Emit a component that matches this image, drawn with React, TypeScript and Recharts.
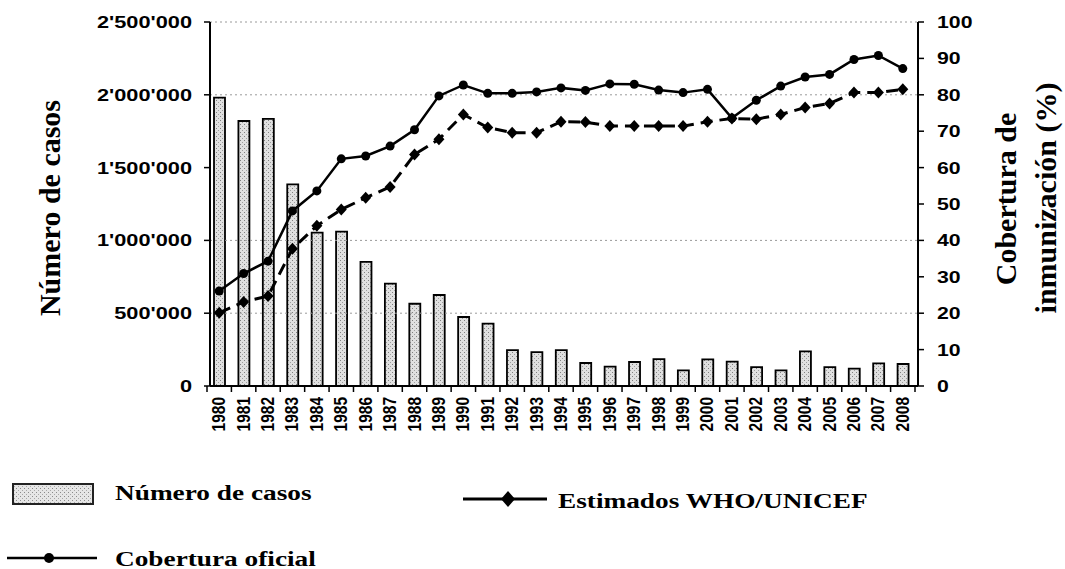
import { ComposedChart, Bar, Line, XAxis, YAxis, ReferenceLine } from 'recharts';

const years = [
  '1980', '1981', '1982', '1983', '1984', '1985', '1986', '1987', '1988', '1989',
  '1990', '1991', '1992', '1993', '1994', '1995', '1996', '1997', '1998', '1999',
  '2000', '2001', '2002', '2003', '2004', '2005', '2006', '2007', '2008',
];

// Número de casos
const casos = [
  1980000, 1820000, 1834000, 1385000, 1053000, 1060000, 852000, 703000, 565000, 625000,
  474000, 428000, 247000, 233000, 247000, 158000, 133000, 165000, 185000, 108000,
  183000, 167000, 130000, 108000, 238000, 130000, 119000, 156000, 151000,
];

// Cobertura oficial (%)
const oficial = [
  26.1, 30.9, 34.3, 48.1, 53.6, 62.4, 63.2, 65.9, 70.4, 79.7,
  82.7, 80.4, 80.4, 80.8, 81.9, 81.2, 83.0, 82.9, 81.3, 80.6,
  81.5, 73.6, 78.5, 82.4, 84.9, 85.6, 89.7, 90.8, 87.2,
];

// Estimados WHO/UNICEF (%)
const estimados = [
  20.1, 23.1, 24.7, 37.7, 44.0, 48.5, 51.7, 54.7, 63.6, 67.8,
  74.6, 71.0, 69.6, 69.6, 72.6, 72.5, 71.4, 71.4, 71.4, 71.4,
  72.6, 73.5, 73.3, 74.6, 76.5, 77.6, 80.6, 80.6, 81.5,
];

const casosTicks = [0, 500000, 1000000, 1500000, 2000000, 2500000];
const pctTicks = [0, 10, 20, 30, 40, 50, 60, 70, 80, 90, 100];
const gridValues = [500000, 1000000, 2000000, 2500000];

const data = years.map((year, i) => ({
  year,
  casos: casos[i],
  oficial: oficial[i],
  estimados: estimados[i],
}));

const W = 1065;
const H = 569;
const PLOT_LEFT = 210;
const PLOT_RIGHT = 918;
const band = (PLOT_RIGHT - PLOT_LEFT) / years.length;

const sans = '"Liberation Sans", Arial, sans-serif';
const serif = '"Liberation Serif", "Times New Roman", serif';

const fmt = (v: number) => String(v).replace(/\B(?=(\d{3})+(?!\d))/g, "'");

const LeftTick = ({ x, y, payload }: any) => (
  <g transform={`translate(${x},${y})`}>
    <text x={0} y={0} dy={6} textAnchor="end" transform="scale(1.28,1)" fontFamily={sans} fontWeight="bold" fontSize={17} fill="#000">
      {fmt(payload.value)}
    </text>
  </g>
);

const RightTick = ({ x, y, payload }: any) => (
  <g transform={`translate(${x},${y})`}>
    <text x={0} y={0} dy={6} textAnchor="start" transform="scale(1.25,1)" fontFamily={sans} fontWeight="bold" fontSize={17} fill="#000">
      {payload.value}
    </text>
  </g>
);

const YearTick = ({ x, y, payload, index }: any) => (
  <g>
    <line x1={x - band / 2} x2={x - band / 2} y1={y - 6} y2={y} stroke="#000" strokeWidth={1.5} />
    {index === years.length - 1 && (
      <line x1={x + band / 2} x2={x + band / 2} y1={y - 6} y2={y} stroke="#000" strokeWidth={1.5} />
    )}
    <text transform={`translate(${x + 6},${y + 5}) rotate(-90) scale(1,1.22)`} textAnchor="end" fontFamily={sans} fontWeight="bold" fontSize={15.5} fill="#000">
      {payload.value}
    </text>
  </g>
);

const CircleDot = (props: any) => {
  const { cx, cy, index } = props;
  if (cx == null || cy == null) return <g key={`c-${index}`} />;
  return <circle key={`c-${index}`} cx={cx} cy={cy} r={4.5} fill="#000" />;
};

const DiamondDot = (props: any) => {
  const { cx, cy, index } = props;
  if (cx == null || cy == null) return <g key={`d-${index}`} />;
  return (
    <path
      key={`d-${index}`}
      d={`M${cx},${cy - 6} L${cx + 5.5},${cy} L${cx},${cy + 6} L${cx - 5.5},${cy} Z`}
      fill="#000"
    />
  );
};

function Overlay() {
  return (
    <svg width={W} height={H} style={{ position: 'absolute', left: 0, top: 0, pointerEvents: 'none' }}>
      <defs>
        <pattern id="stipLegend" width="4" height="4" patternUnits="userSpaceOnUse">
          <rect width="4" height="4" fill="#e6e6e6" />
          <rect x="0" y="0" width="1" height="1" fill="#8a8a8a" />
          <rect x="2" y="2" width="1" height="1" fill="#a8a8a8" />
        </pattern>
      </defs>

      {/* axis titles */}
      <text transform="translate(60,208) rotate(-90)" textAnchor="middle" fontFamily={serif} fontWeight="bold" fontSize={30} fill="#000">
        Número de casos
      </text>
      <text transform="translate(1016,199) rotate(-90)" textAnchor="middle" fontFamily={serif} fontWeight="bold" fontSize={30} fill="#000">
        Cobertura de
      </text>
      <text transform="translate(1056,198) rotate(-90)" textAnchor="middle" fontFamily={serif} fontWeight="bold" fontSize={30} fill="#000">
        inmunización (%)
      </text>

      {/* legend */}
      <rect x={13} y={484} width={80} height={20} fill="url(#stipLegend)" stroke="#222" strokeWidth={2} />
      <text transform="translate(115,500) scale(1.3,1)" fontFamily={serif} fontWeight="bold" fontSize={21} fill="#000">
        Número de casos
      </text>

      <line x1={463} x2={547} y1={499} y2={499} stroke="#000" strokeWidth={3} />
      <path d="M508,491 L515,499 L508,507 L501,499 Z" fill="#000" />
      <text transform="translate(558,508) scale(1.3,1)" fontFamily={serif} fontWeight="bold" fontSize={21} fill="#000">
        Estimados WHO/UNICEF
      </text>

      <line x1={7} x2={97} y1={558} y2={558} stroke="#000" strokeWidth={2.5} />
      <circle cx={49} cy={558} r={5} fill="#000" />
      <text transform="translate(115,566) scale(1.3,1)" fontFamily={serif} fontWeight="bold" fontSize={21} fill="#000">
        Cobertura oficial
      </text>
    </svg>
  );
}

export default function App() {
  return (
    <div style={{ position: 'absolute', left: 0, top: 0, width: W, height: H, background: '#fff' }}>
      <ComposedChart
        width={W}
        height={H}
        data={data}
        margin={{ top: 22, right: 67, bottom: 123, left: 90 }}
        barSize={11}
      >
        <defs>
          <pattern id="stip" width="4" height="4" patternUnits="userSpaceOnUse">
            <rect width="4" height="4" fill="#e0e0e0" />
            <rect x="0" y="0" width="1" height="1" fill="#808080" />
            <rect x="2" y="2" width="1" height="1" fill="#9f9f9f" />
          </pattern>
        </defs>

        {gridValues.map((v) => (
          <ReferenceLine key={v} yAxisId="left" y={v} stroke="#9a9a9a" strokeDasharray="2 3" strokeWidth={1} />
        ))}

        <XAxis
          dataKey="year"
          interval={0}
          height={60}
          padding={{ left: -3, right: 3 }}
          axisLine={{ stroke: '#000', strokeWidth: 2 }}
          tickLine={false}
          tickSize={6}
          tickMargin={0}
          tick={<YearTick />}
        />
        <YAxis
          yAxisId="left"
          orientation="left"
          width={120}
          domain={[0, 2500000]}
          ticks={casosTicks}
          interval={0}
          axisLine={{ stroke: '#000', strokeWidth: 2 }}
          tickLine={{ stroke: '#000', strokeWidth: 1.5 }}
          tickSize={6}
          tickMargin={12}
          tick={<LeftTick />}
        />
        <YAxis
          yAxisId="right"
          orientation="right"
          width={80}
          domain={[0, 100]}
          ticks={pctTicks}
          interval={0}
          axisLine={{ stroke: '#000', strokeWidth: 2 }}
          tickLine={{ stroke: '#000', strokeWidth: 1.5 }}
          tickSize={6}
          tickMargin={13}
          tick={<RightTick />}
        />

        <Bar yAxisId="left" dataKey="casos" fill="url(#stip)" stroke="#000" strokeWidth={1.8} isAnimationActive={false} />
        <Line
          yAxisId="right"
          dataKey="estimados"
          type="linear"
          stroke="#000"
          strokeWidth={3}
          strokeDasharray="12 7"
          dot={DiamondDot}
          activeDot={false}
          isAnimationActive={false}
        />
        <Line
          yAxisId="right"
          dataKey="oficial"
          type="linear"
          stroke="#000"
          strokeWidth={2.5}
          dot={CircleDot}
          activeDot={false}
          isAnimationActive={false}
        />
      </ComposedChart>
      <Overlay />
    </div>
  );
}
